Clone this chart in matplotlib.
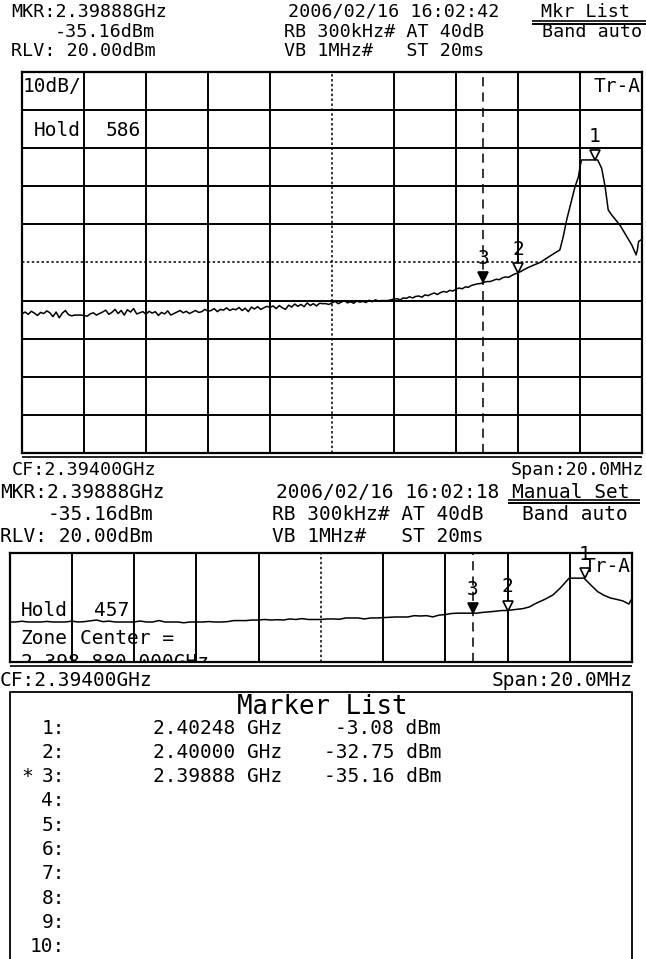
import numpy as np
import matplotlib
matplotlib.use("Agg")
import matplotlib.pyplot as plt
from matplotlib import transforms

# ---------------- data ----------------
f_start = 2.384          # GHz  (CF 2.394 GHz, span 20 MHz)
f_stop = 2.404
ref_level = 20.0         # dBm
db_per_div = 10.0
n_div = 10
display_line_dbm = -30.0

# top trace (Hold 586): noise floor sampled every 0.1 MHz from 2.3840 GHz
top_noise_step = 0.0001
top_noise_dbm = [
    -43.5, -43.0, -43.6, -42.8, -43.3, -43.9, -43.1, -43.4, -42.7, -43.2,
    -44.2, -43.0, -44.5, -43.3, -42.6, -43.7, -44.0, -43.8, -43.8, -43.8,
    -43.9, -44.1, -43.5, -43.2, -43.8, -43.4, -43.0, -42.5, -43.6, -43.1,
    -42.3, -43.4, -42.6, -43.8, -42.4, -43.0, -42.1, -43.5, -43.2, -42.9,
    -43.6, -42.8, -43.3, -42.9, -43.9, -43.1, -43.5, -42.7, -43.8, -43.4,
    -43.0, -42.6, -43.2, -42.8, -43.4, -43.0, -42.6, -43.1, -42.9, -42.3,
    -42.8, -42.6, -42.1, -42.9, -42.3, -42.5, -41.9, -42.6, -42.2, -42.4,
    -41.8, -42.6, -42.0, -42.9, -41.7, -42.2, -41.6, -42.3, -41.9, -41.5,
    -41.8, -41.4, -42.1, -41.3, -41.9, -42.3, -41.2, -41.7, -40.9, -41.5,
    -41.0, -41.6, -40.6, -41.3, -40.8, -41.4, -40.7, -40.8, -40.8, -41.0,
    -40.6, -40.2, -40.8, -40.4, -40.0, -40.6, -40.3, -40.7, -40.1, -40.4,
    -40.2, -40.5, -39.9, -40.3, -39.8, -40.1, -40.0, -40.0, -40.0, -39.8,
    -39.6, -39.5, -39.8, -39.3, -39.4, -39.0, -39.3, -38.9, -38.8, -39.1,
    -38.5, -38.7, -38.3, -38.0, -38.4, -37.9, -37.6, -37.8, -37.3, -37.5,
    -37.0, -36.7, -36.9, -36.4, -36.5, -36.0, -35.8, -35.6, -35.5, -35.2,
    -35.0, -35.0, -34.7, -34.4, -34.5, -34.0, -33.8, -33.9, -33.4, -33.0,
]
top_peak_freq = [2.40000, 2.40028, 2.40050, 2.40071, 2.40092, 2.40113, 2.40135,
                 2.40146, 2.40157, 2.40173, 2.40184, 2.40195, 2.40200, 2.40205,
                 2.40257, 2.40270, 2.40281, 2.40291, 2.40302, 2.40329, 2.40351,
                 2.40367, 2.40381, 2.40385, 2.40389, 2.40396, 2.40400]
top_peak_dbm = [-32.75, -31.5, -30.7, -30.0, -28.9, -27.8, -26.7,
                -23.2, -18.8, -13.6, -10.1, -7.5, -4.9, -3.08,
                -3.08, -5.3, -10.1, -16.2, -17.5, -20.2, -23.2,
                -25.4, -28.0, -26.7, -24.5, -24.1, -24.0]

# lower trace (Hold 457): noise floor sampled every 0.2 MHz from 2.3840 GHz
low_noise_step = 0.0002
low_noise_dbm = [
    -43.3, -43.3, -42.6, -43.3, -43.3, -43.3, -42.8, -43.3, -43.3, -43.3,
    -42.5, -43.3, -43.0, -42.2, -41.5, -43.0, -42.5, -43.3, -43.3, -43.3,
    -43.3, -42.4, -43.3, -43.3, -42.0, -43.3, -43.3, -43.3, -44.0, -43.3,
    -43.3, -43.3, -42.9, -43.3, -43.3, -43.0, -42.0, -42.0, -42.0, -41.5,
    -41.5, -41.0, -41.5, -41.2, -41.5, -40.5, -41.0, -40.2, -41.0, -41.0,
    -41.0, -40.5, -40.5, -40.8, -39.6, -39.6, -39.6, -40.5, -39.6, -39.6,
    -39.3, -39.0, -38.7, -38.7, -38.7, -37.5, -37.8, -37.5, -38.6, -37.0,
    -36.5, -35.5, -35.2, -35.2, -35.2, -35.2, -34.5, -34.0, -33.5, -32.8,
]
low_peak_freq = [2.40000, 2.40020, 2.40050, 2.40070, 2.40092, 2.40120, 2.40146,
                 2.40170, 2.40198, 2.40246, 2.40270, 2.40290, 2.40310, 2.40331,
                 2.40350, 2.40371, 2.40390, 2.40397, 2.40400]
low_peak_dbm = [-32.75, -32.0, -31.0, -29.5, -26.1, -22.5, -18.5,
                -12.0, -3.08, -3.08, -10.0, -15.5, -18.8, -21.3,
                -22.5, -24.0, -26.8, -23.1, -23.5]

marker_ids = ["1", "2", "3"]
marker_freq = [2.40248, 2.40000, 2.39888]
marker_dbm = [-3.08, -32.75, -35.16]
active_marker = 2

# ---------------- texts ----------------
mkr_text = "MKR:2.39888GHz"
mkr_level = "-35.16dBm"
rlv_text = "RLV: 20.00dBm"
date_top = "2006/02/16 16:02:42"
date_low = "2006/02/16 16:02:18"
rb_text = "RB 300kHz# AT 40dB"
vb_text = "VB 1MHz#   ST 20ms"
band_text = "Band auto"
mode_top = "Mkr List"
mode_low = "Manual Set"
cf_text = "CF:2.39400GHz"
span_text = "Span:20.0MHz"
list_rows = ["1:", "2:", "3:", "4:", "5:", "6:", "7:", "8:", "9:", "10:"]
list_freq = ["2.40248 GHz", "2.40000 GHz", "2.39888 GHz"]
list_level = ["-3.08 dBm", "-32.75 dBm", "-35.16 dBm"]

MONO = "DejaVu Sans Mono"
FS = 14.0
FS_TOP = 13.2
W, H = 646, 959

fig = plt.figure(figsize=(W / 100, H / 100), dpi=100)
fig.patch.set_facecolor("white")

ov = fig.add_axes([0, 0, 1, 1], zorder=5)
ov.set_xlim(0, W)
ov.set_ylim(H, 0)
ov.axis("off")


def px_axes(x0, y0, x1, y1):
    return fig.add_axes([x0 / W, 1 - y1 / H, (x1 - x0) / W, (y1 - y0) / H])


def txt(x, y, s, ha="left", size=FS, ax=None, clip=False):
    a = ov if ax is None else ax
    a.text(x, y, s, ha=ha, va="center", fontsize=size, family=MONO,
           color="black", transform=ov.transData, clip_on=clip)


def hline(x0, x1, y, lw):
    ov.plot([x0, x1], [y, y], color="black", lw=lw, solid_capstyle="butt")


def draw_panel(ax, freq, dbm, hgrid):
    ax.set_xlim(f_start, f_stop)
    ax.set_ylim(ref_level - n_div * db_per_div, ref_level)
    ax.set_xticks([])
    ax.set_yticks([])
    for s in ax.spines.values():
        s.set_linewidth(1.6)
    step = (f_stop - f_start) / n_div
    for i in range(1, n_div):
        fx = f_start + i * step
        if i == n_div // 2:
            ax.axvline(fx, color="black", lw=1.1, ls=(0, (1.6, 1.6)))
        else:
            ax.axvline(fx, color="black", lw=1.4)
    if hgrid:
        for j in range(1, n_div):
            ly = ref_level - j * db_per_div
            if ly == display_line_dbm:
                ax.axhline(ly, color="black", lw=1.1, ls=(0, (1.6, 1.6)))
            else:
                ax.axhline(ly, color="black", lw=1.4)
    ax.axvline(marker_freq[active_marker], color="black", lw=1.1,
               ls=(0, (6, 4)))
    ax.plot(freq, dbm, color="black", lw=1.1)
    ms = 7.0
    tri = transforms.offset_copy(ax.transData, fig=fig, x=0, y=ms / 2,
                                 units="points")
    for k, (lab, mf, md) in enumerate(zip(marker_ids, marker_freq, marker_dbm)):
        face = "black" if k == active_marker else "white"
        ax.plot([mf], [md], marker="v", ms=ms, mfc=face, mec="black",
                mew=1.2, transform=tri, clip_on=False, zorder=6)
        ax.annotate(lab, (mf, md), xytext=(0, 23.5), textcoords="offset pixels",
                    ha="center", va="center", fontsize=FS, family=MONO,
                    annotation_clip=False, zorder=7)


# ---------- top section ----------
txt(11, 12, mkr_text, size=FS_TOP)
txt(55, 32, mkr_level, size=FS_TOP)
txt(11, 51, rlv_text, size=FS_TOP)
txt(288, 12, date_top, size=FS_TOP)
txt(284, 32, rb_text, size=FS_TOP)
txt(284, 51, vb_text, size=FS_TOP)
txt(541, 12, mode_top, size=FS_TOP)
hline(532, 646, 20.5, 1.2)
hline(532, 646, 23.5, 1.4)
txt(542, 32, band_text, size=FS_TOP)

ax1 = px_axes(22, 72, 642, 453)
top_freq = list(f_start + top_noise_step * np.arange(len(top_noise_dbm))) + top_peak_freq
top_dbm = top_noise_dbm + top_peak_dbm
draw_panel(ax1, top_freq, top_dbm, hgrid=True)

txt(23, 86, "10dB/")
txt(34, 131, "Hold")
txt(106, 131, "586")
txt(641, 86, "Tr-A", ha="right")

hline(22, 642, 457, 1.2)
txt(12, 470, cf_text, size=FS_TOP)
txt(644, 470, span_text, ha="right", size=FS_TOP)

# ---------- lower section ----------
txt(0, 493, mkr_text)
txt(48, 515, mkr_level)
txt(0, 536, rlv_text)
txt(276, 493, date_low)
txt(272, 515, rb_text)
txt(272, 536, vb_text)
txt(512, 493, mode_low)
hline(508, 640, 499.5, 1.2)
hline(508, 640, 502.5, 1.4)
txt(522, 515, band_text)

ax2 = px_axes(9.5, 553, 632, 662)
low_freq = list(f_start + low_noise_step * np.arange(len(low_noise_dbm))) + low_peak_freq
low_dbm = low_noise_dbm + low_peak_dbm
draw_panel(ax2, low_freq, low_dbm, hgrid=False)

txt(631, 567, "Tr-A", ha="right")
txt(21, 611, "Hold", ax=ax2, clip=True)
txt(94, 611, "457", ax=ax2, clip=True)
txt(21, 639, "Zone", ax=ax2, clip=True)
txt(80, 639, "Center =", ax=ax2, clip=True)
txt(21, 662, "2.398 880 000GHz", ax=ax2, clip=True)

hline(9.5, 632, 666, 1.2)
txt(0, 680, cf_text)
txt(633, 680, span_text, ha="right")

# ---------- marker list ----------
ov.plot([9.5, 9.5, 632, 632], [965, 692, 692, 965], color="black", lw=1.3)
txt(322, 707, "Marker List", ha="center", size=18.5)
row_y0, row_dy = 728, 24.3
for i, r in enumerate(list_rows):
    y = row_y0 + i * row_dy
    txt(65, y, r, ha="right", size=FS)
    if i == active_marker:
        txt(21, y, "*", size=FS)
    if i < len(list_freq):
        txt(153, y, list_freq[i], size=FS)
        txt(441, y, list_level[i], ha="right", size=FS)

fig.savefig("out.png", dpi=100)
